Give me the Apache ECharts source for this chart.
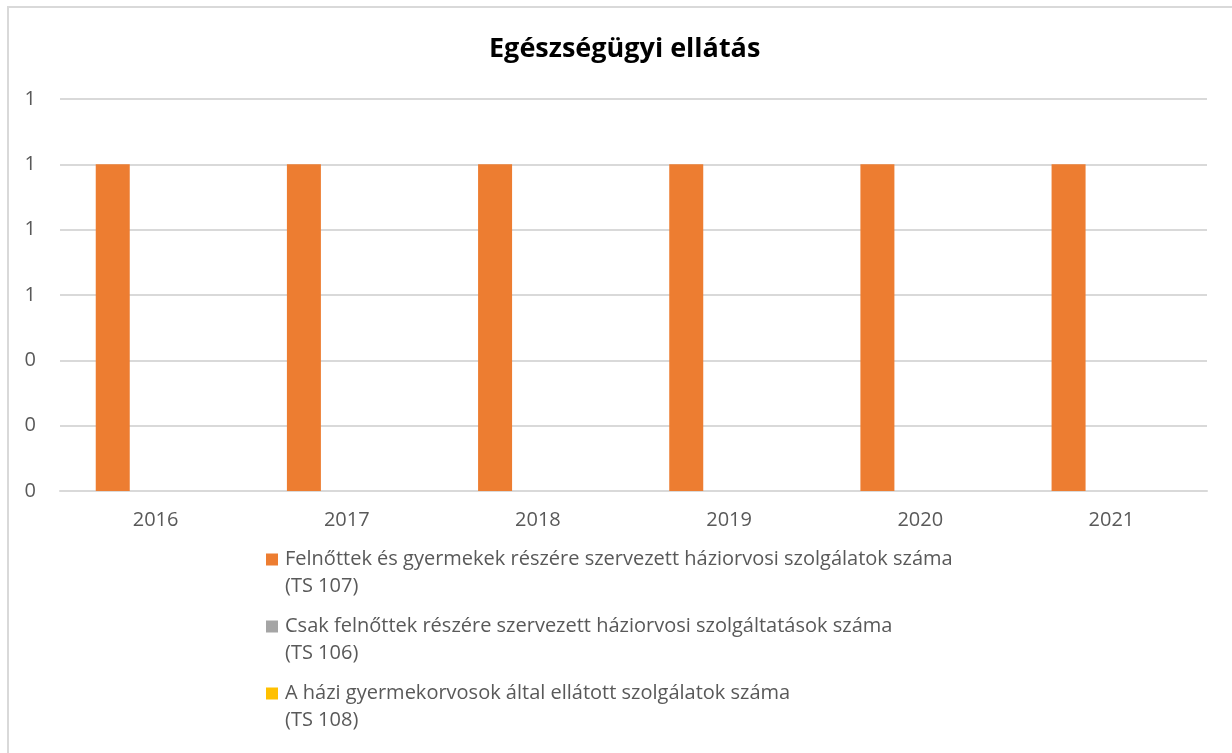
<!DOCTYPE html>
<html>
<head>
<meta charset="utf-8">
<script src="https://cdn.jsdelivr.net/npm/echarts@6/dist/echarts.min.js"></script>
<style>
  html, body { margin: 0; padding: 0; background: #fff; }
  #chart { width: 1232px; height: 753px; }
</style>
</head>
<body>
<div id="chart"></div>
<script>
// data
const years = ['2016', '2017', '2018', '2019', '2020', '2021'];
const seriesNames = [
  'Felnőttek és gyermekek részére szervezett háziorvosi szolgálatok száma (TS 107)',
  'Csak felnőttek részére szervezett háziorvosi szolgáltatások száma (TS 106)',
  'A házi gyermekorvosok által ellátott szolgálatok száma (TS 108)'
];
const ts107 = [1, 1, 1, 1, 1, 1];
const ts106 = [0, 0, 0, 0, 0, 0];
const ts108 = [0, 0, 0, 0, 0, 0];
const colors = ['#ED7D31', '#A5A5A5', '#FFC000'];

const font = '"Open Sans", "Liberation Sans", sans-serif';
const textGrey = '#595959';
const gridGrey = '#d9d9d9';

let chart = echarts.init(document.getElementById('chart'));

// legend rich styles: one coloured square per series
let rich = {
  g: { width: 7 },
  ind: { width: 19 }
};
colors.forEach((c, i) => {
  rich['m' + i] = { width: 12, height: 12, backgroundColor: c };
});

let option = {
  animation: false,
  color: colors,
  title: {
    text: 'Egészségügyi ellátás',
    left: 484,
    top: 31,
    textStyle: { fontFamily: font, fontSize: 27, fontWeight: 'bold', color: '#000' }
  },
  graphic: [{
    type: 'rect',
    shape: { x: 8, y: 7, width: 1400, height: 900 },
    style: { fill: 'none', stroke: gridGrey, lineWidth: 2 },
    silent: true
  }],
  grid: { left: 60, right: 25, top: 99, bottom: 262 },
  legend: {
    orient: 'vertical',
    left: 256,
    top: 541,
    icon: 'none',
    itemWidth: 0,
    itemGap: 13,
    data: seriesNames,
    formatter: function (name) {
      let i = seriesNames.indexOf(name);
      let k = name.indexOf(' (TS');
      return '{m' + i + '|}{g|}' + name.slice(0, k) + '\n{ind|}' + name.slice(k + 1);
    },
    textStyle: {
      fontFamily: font,
      fontSize: 20,
      color: textGrey,
      lineHeight: 27,
      rich: rich
    }
  },
  xAxis: {
    type: 'category',
    data: years,
    axisLine: { lineStyle: { color: gridGrey, width: 2 } },
    axisTick: { show: false },
    axisLabel: { fontFamily: font, fontSize: 20, color: textGrey, margin: 19 }
  },
  yAxis: {
    type: 'value',
    min: 0,
    max: 1.2,
    interval: 0.2,
    axisLine: { show: false },
    axisTick: { show: false },
    splitLine: { lineStyle: { color: gridGrey, width: 2 } },
    axisLabel: {
      fontFamily: font, fontSize: 20, color: textGrey, margin: 24,
      formatter: v => String(Math.round(v))
    }
  },
  series: [
    { name: seriesNames[0], type: 'bar', data: ts107, barWidth: 34, barGap: '26%' },
    { name: seriesNames[1], type: 'bar', data: ts106, barWidth: 34, barGap: '26%' },
    { name: seriesNames[2], type: 'bar', data: ts108, barWidth: 34, barGap: '26%' }
  ]
};
chart.setOption(option);
</script>
</body>
</html>
